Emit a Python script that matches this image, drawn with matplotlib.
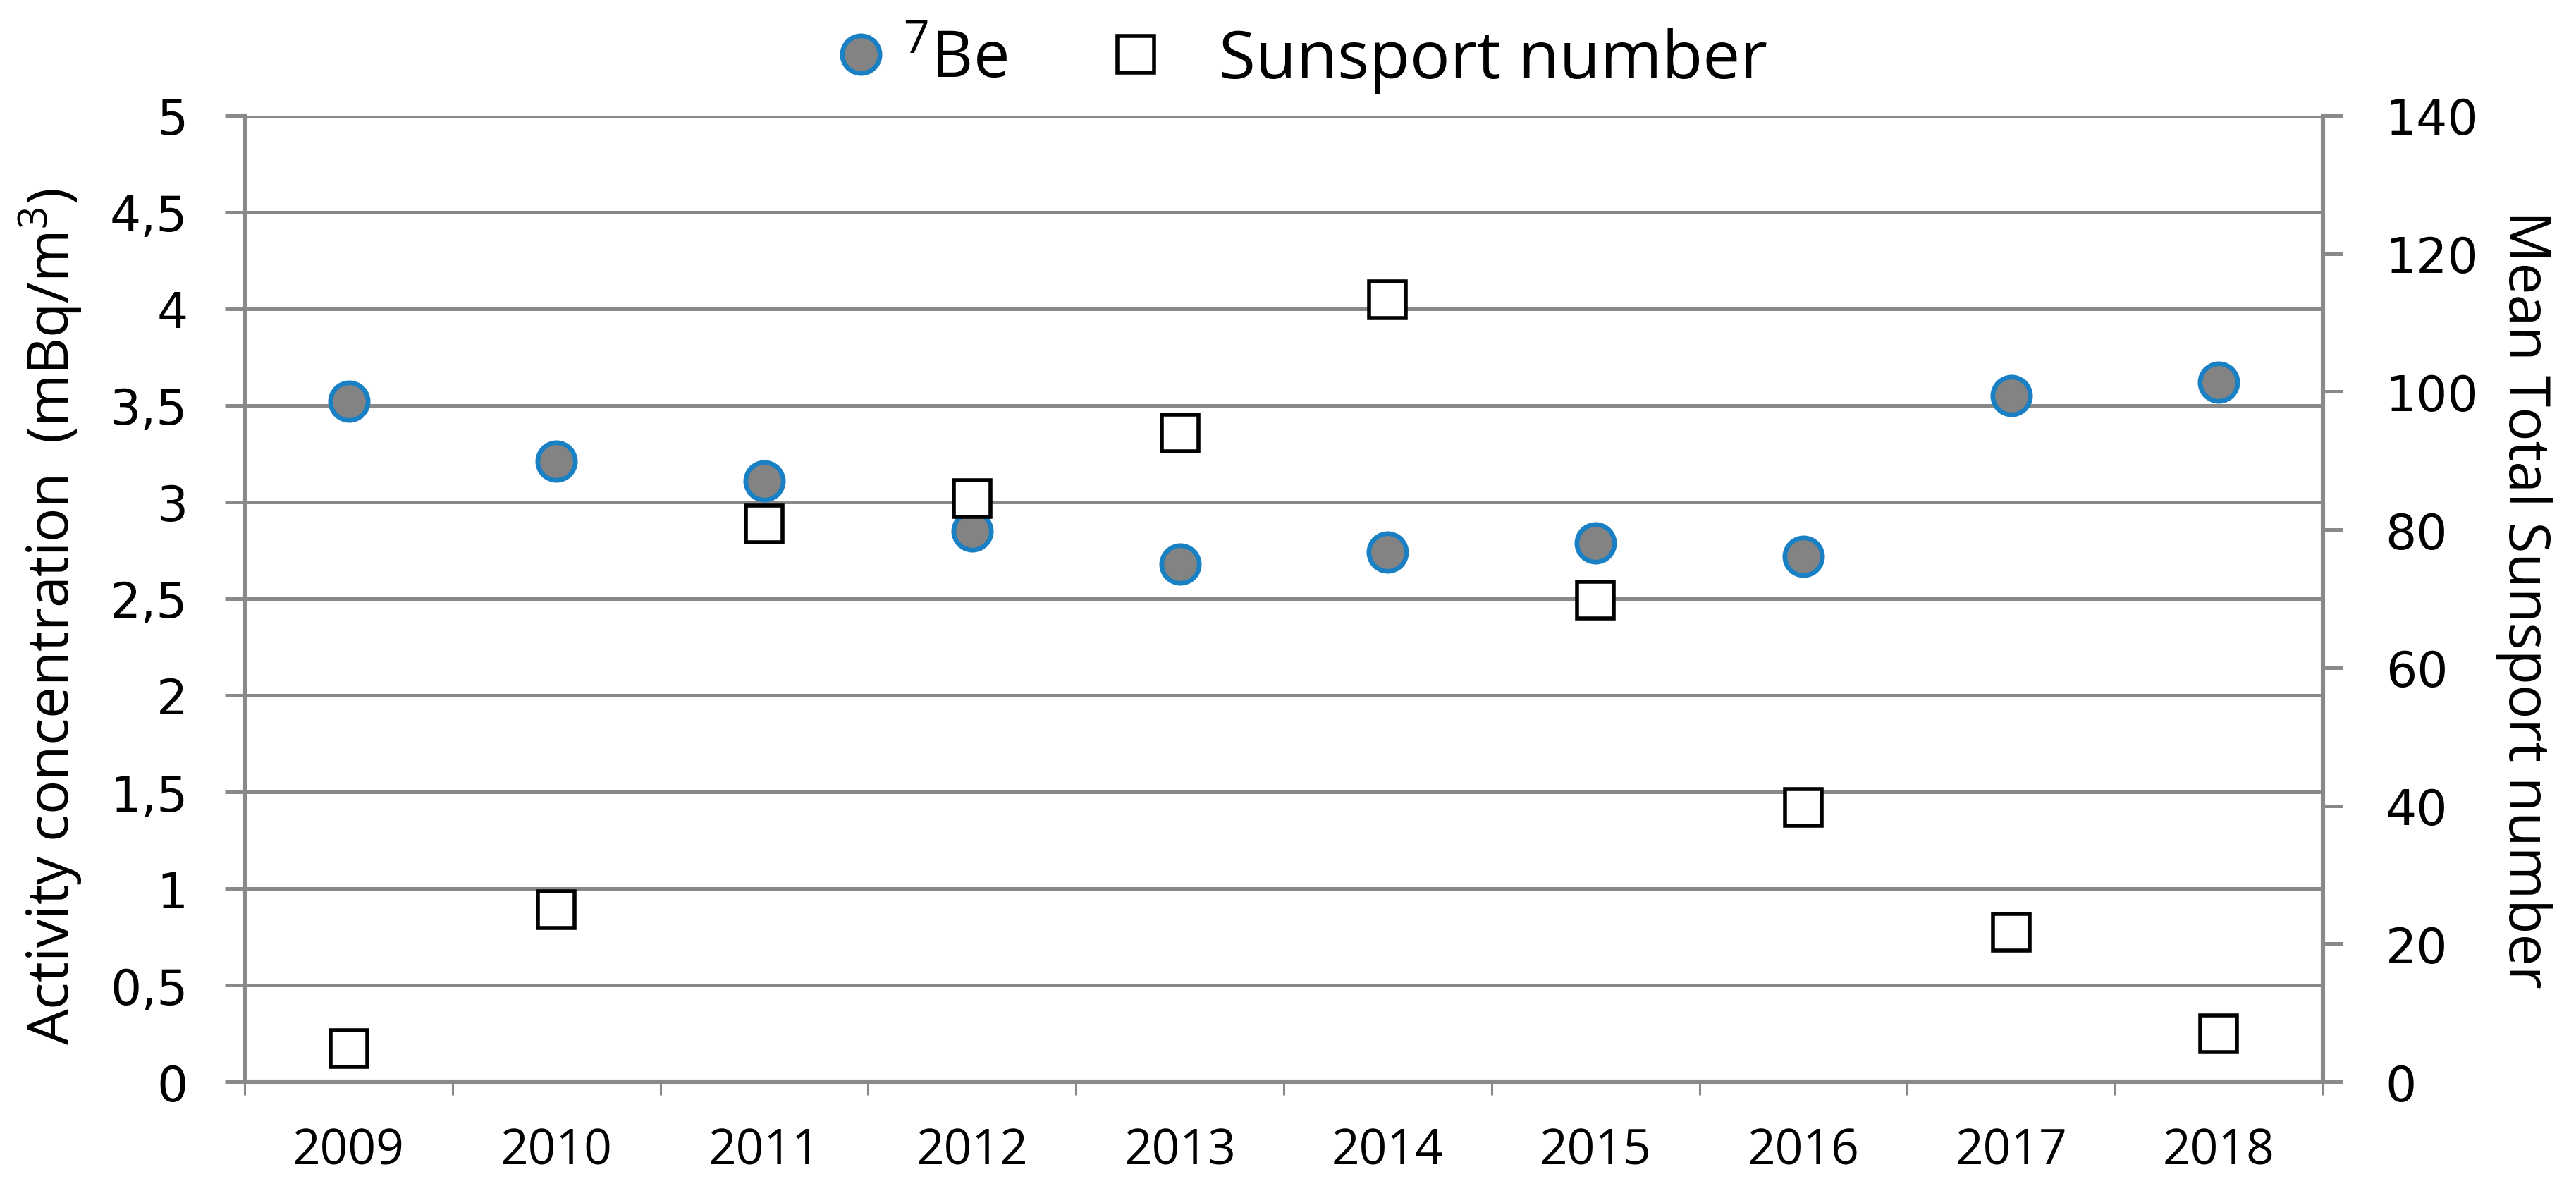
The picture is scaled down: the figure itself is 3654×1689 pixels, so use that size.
import numpy as np
import matplotlib
matplotlib.use("Agg")
import matplotlib.pyplot as plt
from matplotlib.ticker import FixedLocator

# --- data ---
years = ["2009", "2010", "2011", "2012", "2013", "2014", "2015", "2016", "2017", "2018"]
be7 = [3.52, 3.21, 3.11, 2.85, 2.68, 2.74, 2.79, 2.72, 3.55, 3.62]          # mBq/m3
sunspots = [4.8, 24.9, 80.8, 84.5, 94.0, 113.3, 69.8, 39.8, 21.7, 7.0]      # mean total sunspot number

left_ticks = [0, 0.5, 1, 1.5, 2, 2.5, 3, 3.5, 4, 4.5, 5]
left_ticklabels = ["0", "0,5", "1", "1,5", "2", "2,5", "3", "3,5", "4", "4,5", "5"]
right_ticks = [0, 20, 40, 60, 80, 100, 120, 140]

# --- style ---
plt.rcParams['font.family'] = ['Open Sans', 'DejaVu Sans']
GRID = "#898989"
BLUE = "#1a80c4"
FILL = "#838383"

fig = plt.figure(figsize=(18.27, 8.45), dpi=200)
ax = fig.add_axes([0.095, 0.0917, 0.8067, 0.8107])
ax2 = ax.twinx()

x = np.arange(len(years))

# 7Be circles (left axis)
l1, = ax.plot(x, be7, linestyle="none", marker="o", markersize=19.2,
              markerfacecolor=FILL, markeredgecolor=BLUE, markeredgewidth=2.4,
              zorder=3, label=r"$\mathregular{^7}$Be")

# sunspot squares (right axis)
l2, = ax2.plot(x, sunspots, linestyle="none", marker="s", markersize=19.0,
               markerfacecolor="white", markeredgecolor="black", markeredgewidth=2.0,
               zorder=3, label="Sunsport number")

# x axis: categories, ticks on the boundaries
ax.set_xlim(-0.5, len(years) - 0.5)
ax.xaxis.set_major_locator(FixedLocator(x))
ax.set_xticklabels(years, fontsize=25)
ax.xaxis.set_minor_locator(FixedLocator(np.arange(len(years) + 1) - 0.5))
ax.tick_params(axis="x", which="major", length=0, pad=23)
ax.tick_params(axis="x", which="minor", length=7, width=1.1, color=GRID)

# left axis
ax.set_ylim(0, 5)
ax.set_yticks(left_ticks)
ax.set_yticklabels(left_ticklabels, fontsize=25, family="DejaVu Sans")
ax.tick_params(axis="y", length=10, width=1.8, color=GRID, pad=19)
ax.yaxis.grid(True, color=GRID, linewidth=1.8)
ax.set_axisbelow(True)
ax.set_ylabel("Activity concentration  (mBq/m$\\mathregular{^3}$)", fontsize=29)
ax.yaxis.set_label_coords(-0.0933, 0.482)
ax.yaxis.label.set_verticalalignment("center")

# right axis
ax2.set_ylim(0, 140)
ax2.set_yticks(right_ticks)
ax2.set_yticklabels([str(t) for t in right_ticks], fontsize=25, family="DejaVu Sans")
ax2.tick_params(axis="y", length=10, width=1.8, color=GRID, pad=22)
ax2.set_ylabel("Mean Total Sunsport number", fontsize=29, rotation=-90)
ax2.yaxis.set_label_coords(1.0967, 0.5)
ax2.yaxis.label.set_verticalalignment("center")

# spines
for a in (ax, ax2):
    a.spines["top"].set_visible(False)
ax.spines["right"].set_visible(False)
ax2.spines["left"].set_visible(False)
ax2.spines["bottom"].set_visible(False)
for s in (ax.spines["left"], ax.spines["bottom"], ax2.spines["right"]):
    s.set_color(GRID)
    s.set_linewidth(2.2)

# legend on top (two entries, spaced like the original)
fig.legend(handles=[l1], loc="center", bbox_to_anchor=(0.3582, 0.949),
           frameon=False, fontsize=33, handlelength=0.7, handletextpad=0.3)
fig.legend(handles=[l2], loc="center", bbox_to_anchor=(0.5589, 0.949),
           frameon=False, fontsize=34, handlelength=0.7, handletextpad=0.9)

fig.savefig("out.png", dpi=200)
